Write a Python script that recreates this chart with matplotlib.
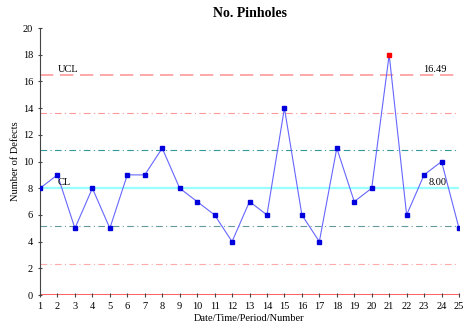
import numpy as np
import matplotlib
matplotlib.use("Agg")
import matplotlib.pyplot as plt

plt.rcParams['font.family'] = ['Liberation Serif', 'DejaVu Serif']

# Data
samples = list(range(1, 26))
defects = [8, 9, 5, 8, 5, 9, 9, 11, 8, 7, 6, 4, 7, 6, 14, 6, 4, 11, 7, 8, 18, 6, 9, 10, 5]
cl = 8.00
ucl = 16.49
lcl = 0.0
sigma_lines = [13.66, 10.83, 5.17, 2.34]
sigma_colors = ['#ff9999', '#339999', '#669999', '#ffaaaa']

fig = plt.figure(figsize=(4.69, 3.3), dpi=100)
ax = fig.add_axes([0.0853, 0.106, 0.8934, 0.809])

# control lines
ax.axhline(ucl, color='#ff9999', lw=1.2, dashes=(8, 4))
ax.axhline(cl, color='#99ffff', lw=1.6)
for v, c in zip(sigma_lines, sigma_colors):
    ax.axhline(v, color=c, lw=0.8, dashes=(6, 3, 1, 3))
ax.axhline(lcl, color='#ff4444', lw=1.2, zorder=1)

x = np.array(samples)
y = np.array(defects)
ax.plot(x, y, color='#6666ff', lw=0.8, zorder=3)
out = y > ucl
ax.plot(x[~out], y[~out], 's', color='#0000dd', ms=3.5, zorder=4, lw=0)
ax.plot(x[out], y[out], 's', color='#ff0000', ms=3.5, zorder=4, lw=0)

ax.text(2.0, ucl + 0.25, 'UCL', fontsize=7.5)
ax.text(2.0, cl + 0.25, 'CL', fontsize=7.5)
ax.text(24.3, ucl + 0.25, '%.2f' % ucl, fontsize=7.5, ha='right')
ax.text(24.3, cl + 0.25, '%.2f' % cl, fontsize=7.5, ha='right')

ax.set_xlim(1, 25)
ax.set_ylim(0, 20)
ax.set_xticks(samples)
ax.set_yticks(range(0, 21, 2))
ax.tick_params(labelsize=7.5, length=3, direction='inout', color='#444444')
for s in ['top', 'right', 'bottom']:
    ax.spines[s].set_visible(False)
ax.spines['left'].set_color('#444444')

ax.set_title('No. Pinholes', fontsize=10, fontweight='bold', pad=8)
ax.set_xlabel('Date/Time/Period/Number', fontsize=7.5, labelpad=2)
ax.set_ylabel('Number of Defects', fontsize=7.5, labelpad=2)

fig.savefig('out.png', dpi=100)
